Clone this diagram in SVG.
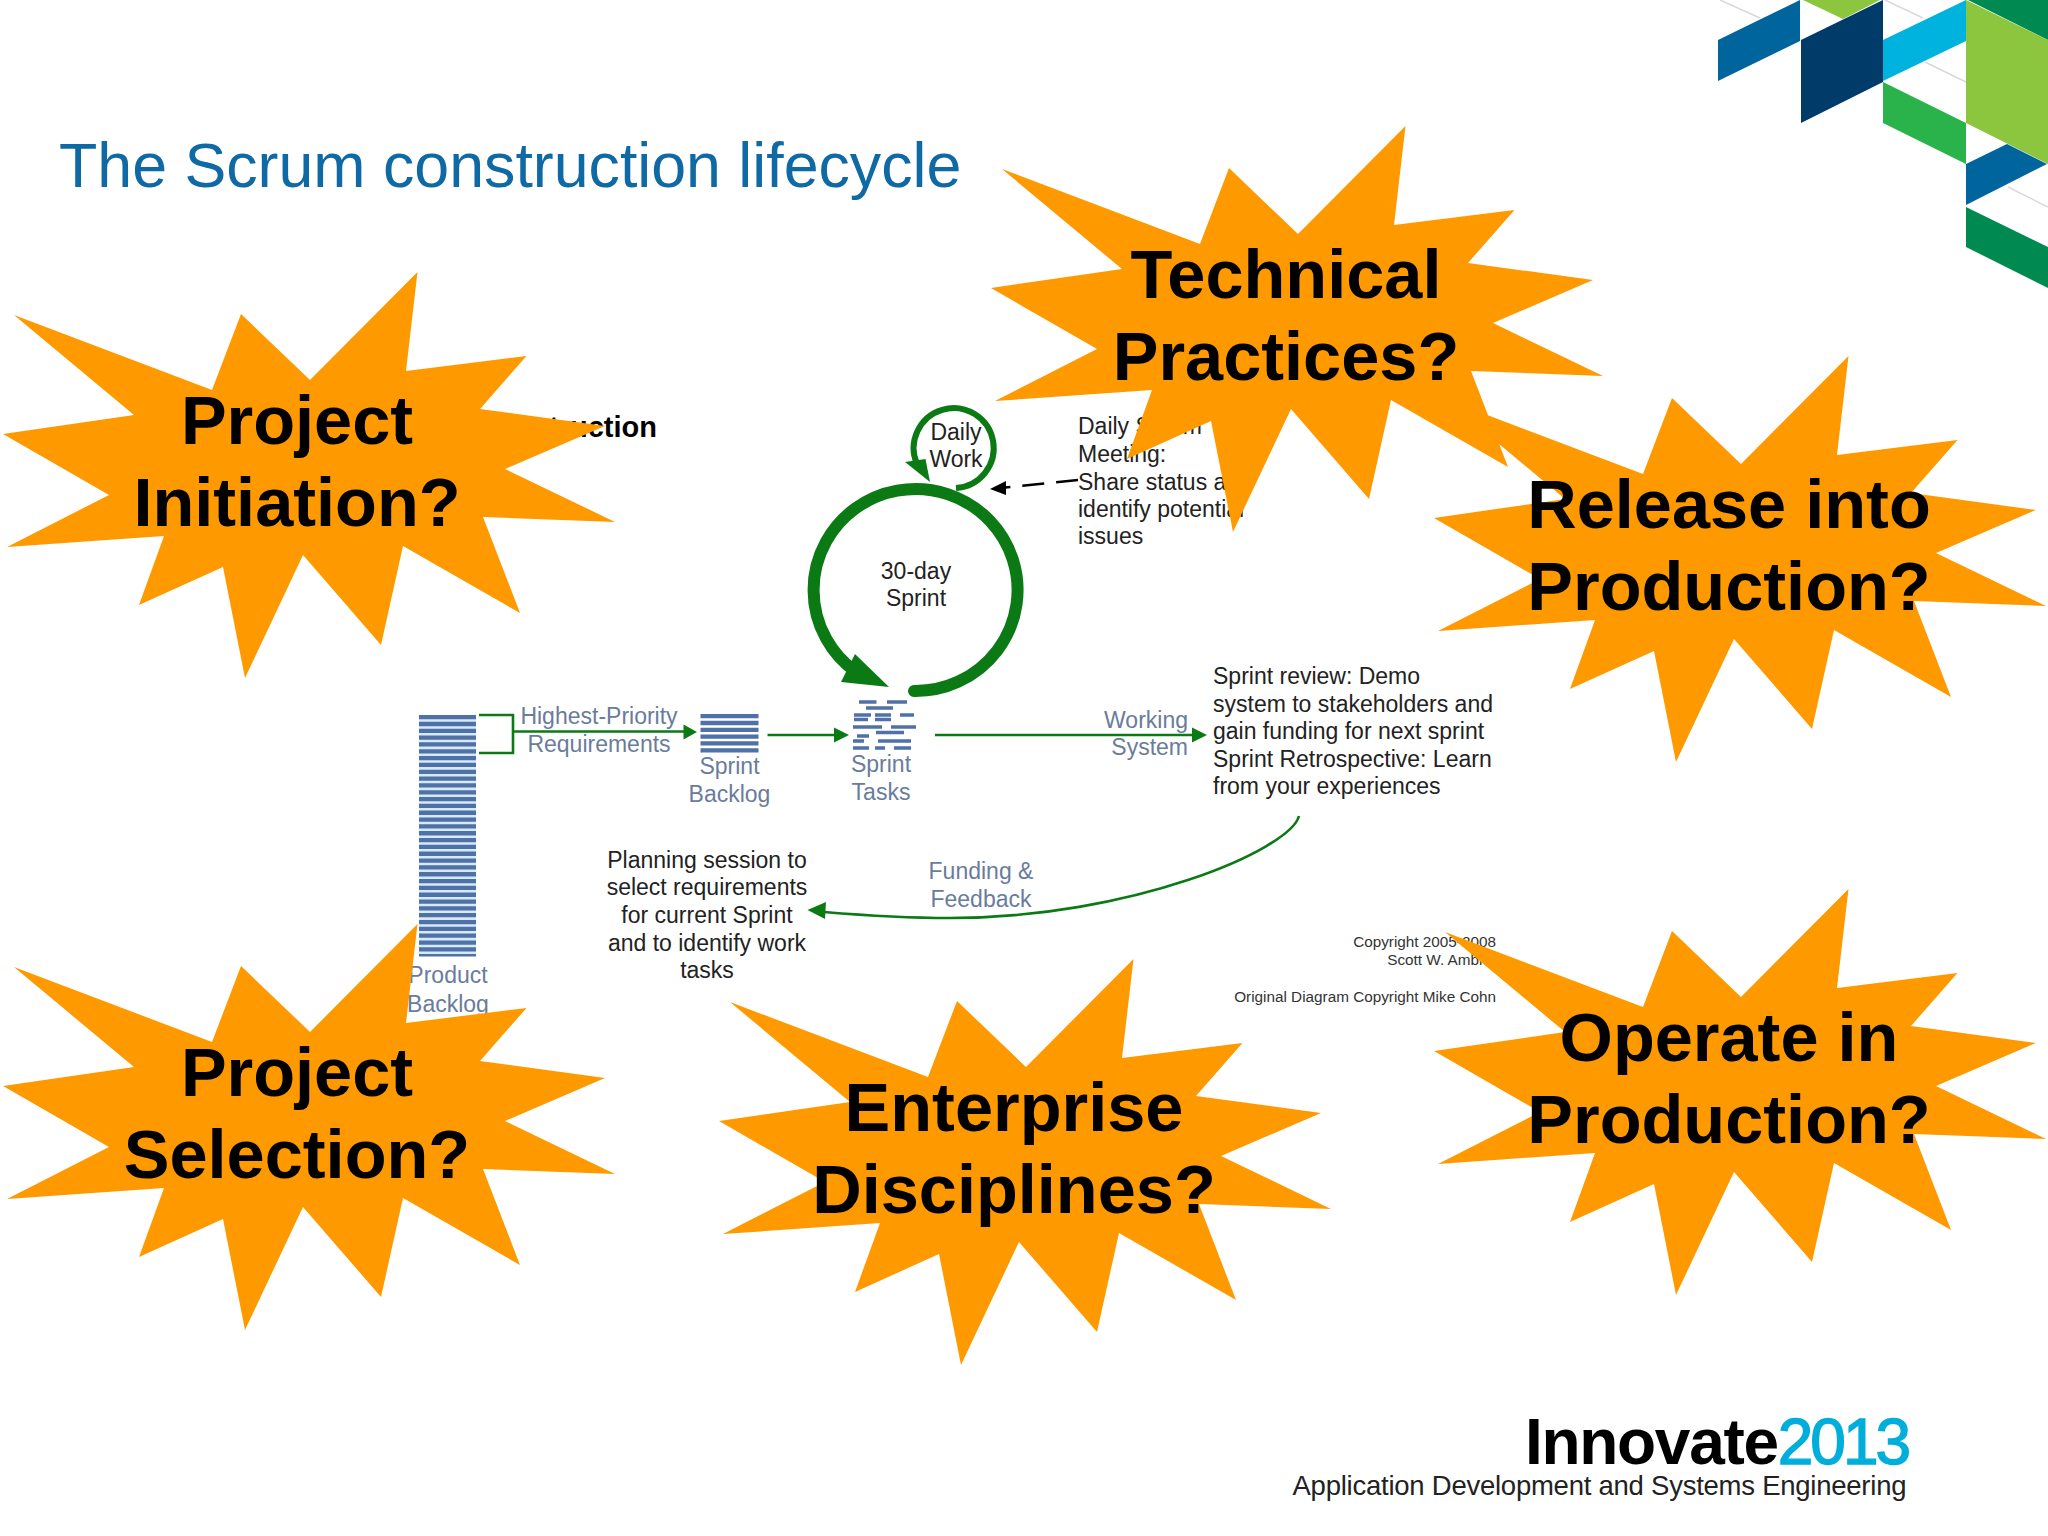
<svg xmlns="http://www.w3.org/2000/svg" width="2048" height="1536" viewBox="0 0 2048 1536">
<style>
text{font-family:"Liberation Sans",Arial,sans-serif}
.d{font-size:23px;fill:#222}
.b{font-size:23px;fill:#6a7c9c}
.m{text-anchor:middle}
.e{text-anchor:end}
.c{font-size:15.3px;fill:#333;text-anchor:end}
.q{font-size:68.5px;font-weight:700;fill:#000;text-anchor:middle}
.ln{fill:none;stroke:#0b7a14;stroke-width:2.6}
.ar{fill:#0b7a14}
.st{fill:#ff9900}
.bar{fill:none;stroke:#4f71a8;stroke-width:3.6}
</style>
<defs>
<polygon id="star" points="417.500,273 406,372 526.500,357 480,410 605,427 505,470 615,523 483,518 520,614 403,547 381,646 303,556 245,679 223,568 139,606 164,537 7,548 109,496 3,435 134,416 14,316 212,391 241,315 310,381"/>
</defs>
<rect width="2048" height="1536" fill="#fff"/>
<g id="brand-mark">
<g stroke="#d9d9d9" stroke-width="1.5"><path d="M1720,0L1760,18M1885,0L1923,18M1925,62L1966,82M2008,187L2048,207"/></g>
<polygon points="1718,40 1800,0 1800,41 1718,81" fill="#00649d"/>
<polygon points="1803,0 1880,0 1843,19" fill="#8cc63f"/>
<polygon points="1801,40 1883,0 1883,82 1801,123" fill="#003b6a"/>
<polygon points="1883,40 1966,0 1966,41 1883,81" fill="#00b2de"/>
<polygon points="1883,82 1966,123 1966,164 1883,123" fill="#2bb34b"/>
<polygon points="1968,0 2048,0 2048,40" fill="#008a52"/>
<polygon points="1966,0 2048,40 2048,164 1966,123" fill="#8cc63f"/>
<polygon points="1966,164 2007,144 2047,164 1966,205" fill="#00649d"/>
<polygon points="1966,207 2048,247 2048,288 1966,247" fill="#008a52"/>
</g>
<text id="title" x="59" y="187" font-size="62.700" fill="#0f69a4">The Scrum construction lifecycle</text>
<text id="heading" x="657" y="437" font-size="29" font-weight="700" fill="#000" text-anchor="end">Construction</text>

<g id="connectors">
<path class="ln" d="M479,715H513V753H479M513,731.500H685"/>
<polygon class="ar" points="697,732 683.500,724.500 683.500,739.500"/>
<path class="ln" d="M767.500,735H836"/>
<polygon class="ar" points="849,735 834,727.500 834,742.500"/>
<path class="ln" d="M935,735H1194"/>
<polygon class="ar" points="1207,735 1192,727.500 1192,742.500"/>
<path class="ln" d="M1299,816C1290,850 1130,918 950,918C900,918 860,915 824,912"/>
<polygon class="ar" points="807.500,910 826,902 825,919"/>
<path d="M1078,480L1000,488" fill="none" stroke="#000" stroke-width="2.6" stroke-dasharray="22 12"/>
<polygon points="990,489 1006,481 1006,495" fill="#000"/>
<path d="M914,691A102,101 0 1 0 856,672" fill="none" stroke="#0b7a14" stroke-width="12" stroke-linecap="round"/>
<polygon class="ar" points="855,654 889,687 841,682"/>
<path d="M956,488A40,40 0 1 0 917,464" fill="none" stroke="#0b7a14" stroke-width="6"/>
<polygon class="ar" points="905,462 925.500,459 930,482"/>
</g>

<g id="product-backlog">
<rect x="419" y="715" width="57" height="241" fill="#d5eafa"/>
<path d="M447.500,715V956.500" fill="none" stroke="#4f71a8" stroke-width="57" stroke-dasharray="4.300 2.530"/>
<text class="b m" x="448" y="983">Product</text>
<text class="b m" x="448" y="1012">Backlog</text>
</g>
<g id="sprint-backlog">
<path d="M729.500,714V752.500" fill="none" stroke="#4f71a8" stroke-width="58" stroke-dasharray="4.300 2.530"/>
<text class="b m" x="729.500" y="774">Sprint</text>
<text class="b m" x="729.500" y="802">Backlog</text>
</g>
<g id="sprint-tasks">
<path class="bar" d="M859,702H876.500M887,702H907M866,708H893M854,715H871M875,715H891M900,715H914M854,719.500H868M875,719.500H891M853,727H882M891,727H916M876,732.500H904M857,736H869M853,741H864M878,741H911M853,748H869M875,748H885M894,748H911"/>
<text class="b m" x="881" y="772">Sprint</text>
<text class="b m" x="881" y="800">Tasks</text>
</g>
<g id="labels">
<text class="b m" x="599" y="724">Highest-Priority</text>
<text class="b m" x="599" y="752">Requirements</text>
<text class="b e" x="1188" y="728">Working</text>
<text class="b e" x="1188" y="755">System</text>
<text class="b m" x="981" y="879">Funding &amp;</text>
<text class="b m" x="981" y="907">Feedback</text>
</g>
<g id="daily-work">
<text class="d m" x="956" y="440">Daily</text>
<text class="d m" x="956" y="467">Work</text>
</g>
<g id="sprint">
<text class="d m" x="916" y="579">30-day</text>
<text class="d m" x="916" y="606">Sprint</text>
</g>
<g id="daily-scrum-note">
<text class="d" x="1078" y="434">Daily Scrum</text>
<text class="d" x="1078" y="462">Meeting:</text>
<text class="d" x="1078" y="490">Share status and</text>
<text class="d" x="1078" y="517">identify potential</text>
<text class="d" x="1078" y="544">issues</text>
</g>
<g id="sprint-review-note">
<text class="d" x="1213" y="684">Sprint review: Demo</text>
<text class="d" x="1213" y="712">system to stakeholders and</text>
<text class="d" x="1213" y="739">gain funding for next sprint</text>
<text class="d" x="1213" y="767">Sprint Retrospective: Learn</text>
<text class="d" x="1213" y="794">from your experiences</text>
</g>
<g id="planning-note">
<text class="d m" x="707" y="868">Planning session to</text>
<text class="d m" x="707" y="895">select requirements</text>
<text class="d m" x="707" y="923">for current Sprint</text>
<text class="d m" x="707" y="951">and to identify work</text>
<text class="d m" x="707" y="978">tasks</text>
</g>
<g id="copyright">
<text class="c" x="1496" y="947">Copyright 2005-2008</text>
<text class="c" x="1496" y="965">Scott W. Ambler</text>
<text class="c" x="1496" y="1002">Original Diagram Copyright Mike Cohn</text>
</g>

<g id="star-technical" transform="translate(988,-147)"><use href="#star" class="st"/><text class="q" x="298" y="445">Technical</text><text class="q" x="298" y="527">Practices?</text></g>
<g id="star-release" transform="translate(1431,83)"><use href="#star" class="st"/><text class="q" x="298" y="445">Release into</text><text class="q" x="298" y="527">Production?</text></g>
<g id="star-operate" transform="translate(1431,616)"><use href="#star" class="st"/><text class="q" x="298" y="445">Operate in</text><text class="q" x="298" y="527">Production?</text></g>
<g id="star-initiation" transform="translate(0,-1)"><use href="#star" class="st"/><text class="q" x="297" y="445">Project</text><text class="q" x="297" y="527">Initiation?</text></g>
<g id="star-selection" transform="translate(0,651)"><use href="#star" class="st"/><text class="q" x="297" y="445">Project</text><text class="q" x="297" y="527">Selection?</text></g>
<g id="star-enterprise" transform="translate(716,686)"><use href="#star" class="st"/><text class="q" x="298" y="445">Enterprise</text><text class="q" x="298" y="527">Disciplines?</text></g>

<g id="innovate-logo">
<text x="1525" y="1464" font-size="64" font-weight="700" letter-spacing="-1.300" fill="#000">Innovate<tspan fill="#00aedb" stroke="#00aedb" stroke-width="1.400" font-weight="400" letter-spacing="-3">2013</tspan></text>
<text x="1292.500" y="1495" font-size="27.500" fill="#222" textLength="614" lengthAdjust="spacing">Application Development and Systems Engineering</text>
</g>
</svg>
